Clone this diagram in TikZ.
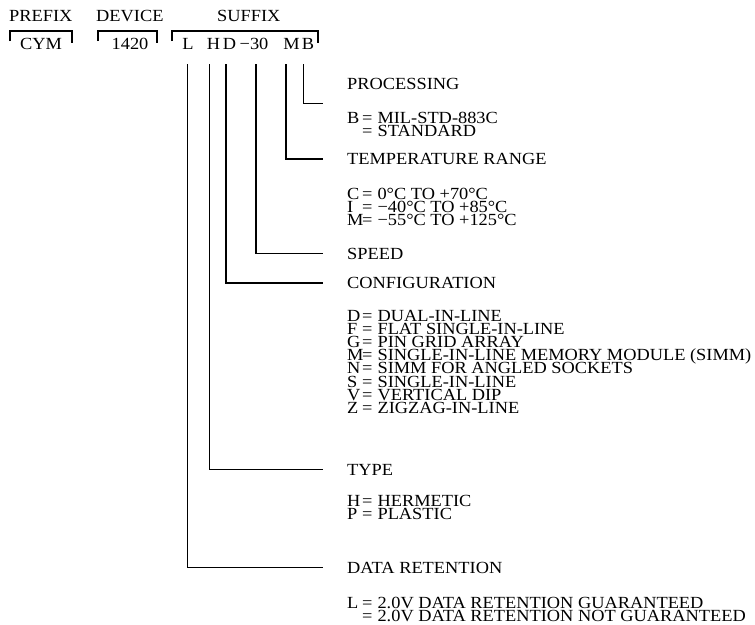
\documentclass[tikz,border=0pt]{standalone}
\usepackage{fontspec}
\setmainfont{Liberation Serif}[FakeStretch=1.08]
\newcommand{\optline}[2]{\makebox[15pt][l]{#1}=\hspace{5pt}#2}

\begin{document}
\begin{tikzpicture}[x=1pt, y=-1pt,
    lbl/.style={anchor=base west, inner sep=0pt, text height=11.3pt, text depth=0pt,
      font=\fontsize{17}{13}\selectfont},
    code/.style={anchor=base, inner sep=0pt, font=\fontsize{17}{13}\selectfont},
    bracket/.style={line width=1.1pt},
    leg/.style={line width=1.5pt, shorten >=24pt}]
  \useasboundingbox (0,0) rectangle (755,624);

  % header and brackets
  \node[lbl] (prefix) at (9,21) {PREFIX};
  \node[lbl] (device) at (96,21) {DEVICE};
  \node[lbl] (suffix) at (217,21) {SUFFIX};
  \draw[bracket] (10,41) |- (72,31) -- (72,43);
  \draw[bracket] (98,41) |- (157,31) -- (157,43);
  \draw[bracket] (172,41) |- (318,31) -- (318,43);

  \node[code] (cym) at (41,49.5) {CYM};
  \node[code] (num) at (130,49.5) {1420};
  \node[code] (sL) at (188,49.5) {L};
  \node[code] (sH) at (213.5,49.5) {H};
  \node[code] (sD) at (229.5,49.5) {D};
  \node[code] (sS) at (254,49.5) {−30};
  \node[code] (sM) at (291.5,49.5) {M};
  \node[code] (sB) at (308,49.5) {B};

  \coordinate (tL) at (187.5,64);
  \coordinate (tH) at (209.5,64);
  \coordinate (tD) at (226,64);
  \coordinate (tS) at (256,64);
  \coordinate (tM) at (286,64);
  \coordinate (tB) at (303.5,64);

  % processing
  \node[lbl] (proc) at (347,89) {PROCESSING};
  \node[lbl] (proc0) at (347,123) {\optline{B}{MIL-STD-883C}};
  \node[lbl] (proc1) at (347,136) {\optline{}{STANDARD}};

  % temperature
  \node[lbl] (temp) at (347,164.5) {TEMPERATURE RANGE};
  \foreach \k/\t [count=\i from 0] in {C/0°C TO +70°C, I/−40°C TO +85°C, M/−55°C TO +125°C}
    \node[lbl] (temp\i) at (347,199.5+13*\i) {\optline{\k}{\t}};

  % speed and configuration
  \node[lbl] (speed) at (347,259) {SPEED};
  \node[lbl] (conf) at (347,288.5) {CONFIGURATION};
  \foreach \k/\t [count=\i from 0] in {D/DUAL-IN-LINE, F/FLAT SINGLE-IN-LINE,
      G/PIN GRID ARRAY, M/SINGLE-IN-LINE MEMORY MODULE (SIMM),
      N/SIMM FOR ANGLED SOCKETS, S/SINGLE-IN-LINE, V/VERTICAL DIP, Z/ZIGZAG-IN-LINE}
    \node[lbl] (conf\i) at (347,321.5+13.1*\i) {\optline{\k}{\t}};

  % type
  \node[lbl] (type) at (347,475) {TYPE};
  \node[lbl] (type0) at (347,506.5) {\optline{H}{HERMETIC}};
  \node[lbl] (type1) at (347,519.5) {\optline{P}{PLASTIC}};

  % data retention
  \node[lbl] (data) at (347,573) {DATA RETENTION};
  \node[lbl] (data0) at (347,608) {\optline{L}{2.0V DATA RETENTION GUARANTEED}};
  \node[lbl] (data1) at (347,621) {\optline{}{2.0V DATA RETENTION NOT GUARANTEED}};

  % legs
  \draw[leg] (tB) |- ([yshift=-20pt]proc.west);
  \draw[leg] (tM) |- (temp.west);
  \draw[leg] (tS) |- (speed.west);
  \draw[leg] (tD) |- (conf.west);
  \draw[leg] (tH) |- (type.west);
  \draw[leg] (tL) |- (data.west);
\end{tikzpicture}
\end{document}
